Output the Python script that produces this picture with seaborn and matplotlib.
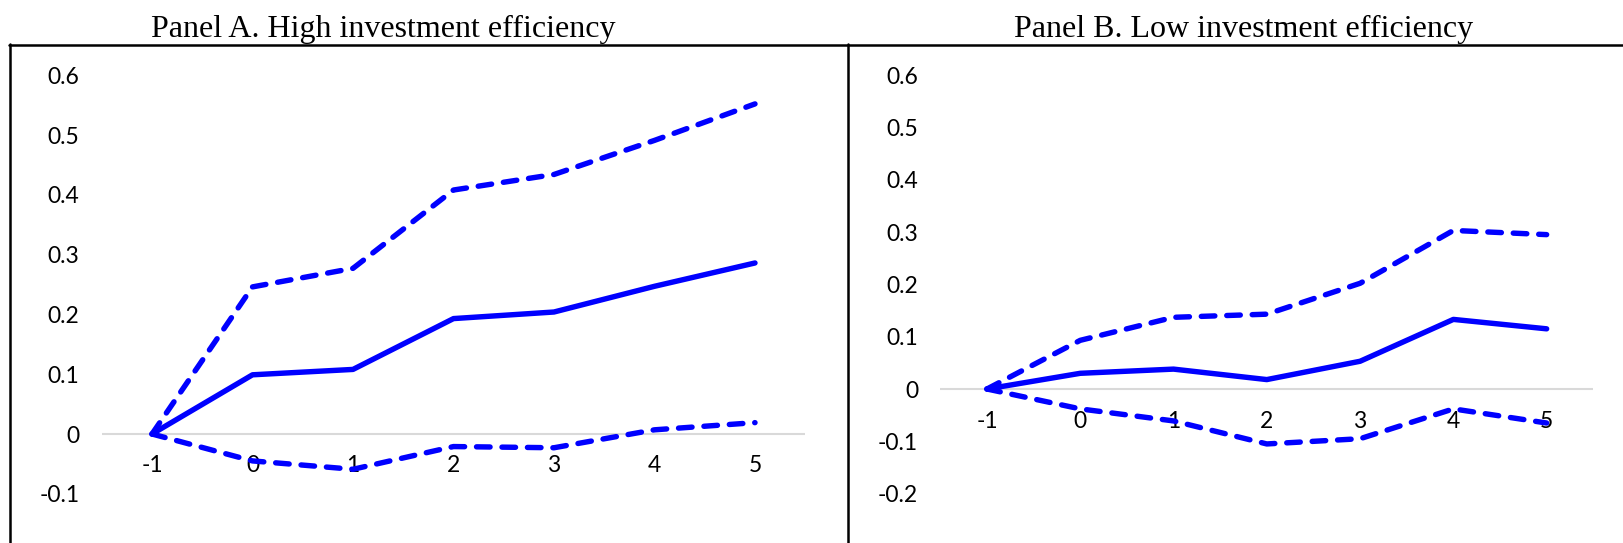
import matplotlib
matplotlib.use("Agg")
import matplotlib.pyplot as plt
from matplotlib.lines import Line2D
import seaborn as sns
import pandas as pd

# ---- data ----
periods = [-1, 0, 1, 2, 3, 4, 5]

a_coef = [0.0, 0.099, 0.108, 0.193, 0.204, 0.247, 0.286]
a_upper = [0.0, 0.246, 0.277, 0.408, 0.434, 0.491, 0.552]
a_lower = [0.0, -0.045, -0.059, -0.021, -0.023, 0.007, 0.019]

b_coef = [0.0, 0.030, 0.038, 0.018, 0.053, 0.133, 0.115]
b_upper = [0.0, 0.093, 0.137, 0.143, 0.202, 0.303, 0.295]
b_lower = [0.0, -0.038, -0.061, -0.105, -0.095, -0.038, -0.065]

a_yticks = [-0.1, 0.0, 0.1, 0.2, 0.3, 0.4, 0.5, 0.6]
a_ylabels = ["-0.1", "0", "0.1", "0.2", "0.3", "0.4", "0.5", "0.6"]
b_yticks = [-0.2, -0.1, 0.0, 0.1, 0.2, 0.3, 0.4, 0.5, 0.6]
b_ylabels = ["-0.2", "-0.1", "0", "0.1", "0.2", "0.3", "0.4", "0.5", "0.6"]
xlabels = ["-1", "0", "1", "2", "3", "4", "5"]

titles = ["Panel A. High investment efficiency", "Panel B. Low investment efficiency"]

# ---- style ----
sns.set_theme(style="white")
plt.rcParams["font.family"] = ["Lato", "DejaVu Sans"]
plt.rcParams["axes.unicode_minus"] = False

W, H = 1624, 543
DPI = 100
fig = plt.figure(figsize=(W / DPI, H / DPI), dpi=DPI)

BLUE = "#0000FF"
LW = 3.9
DASH = (0, (2.5, 2.2))

def px_axes(left, right, top_px, bottom_px):
    return [left / W, 1 - bottom_px / H, (right - left) / W, (bottom_px - top_px) / H]

# panel A: x -1.5..5.5 -> 101.75..805.25 ; y: 0 at 434, 598 px per unit
ya0, yascale = 434.0, 598.0
a_ylim = (-0.15, 0.65)
axA = fig.add_axes(px_axes(101.75, 805.25, ya0 - a_ylim[1] * yascale, ya0 - a_ylim[0] * yascale))
# panel B: x -1.5..5.5 -> 940.3..1593.3 ; y: 0 at 389, 523.3 px per unit
yb0, ybscale = 389.0, 523.3
b_ylim = (-0.25, 0.65)
axB = fig.add_axes(px_axes(940.3, 1593.3, yb0 - b_ylim[1] * ybscale, yb0 - b_ylim[0] * ybscale))

panels = [
    (axA, a_coef, a_upper, a_lower, a_ylim, a_yticks, a_ylabels, 15),
    (axB, b_coef, b_upper, b_lower, b_ylim, b_yticks, b_ylabels, 16),
]

for ax, coef, up, lo, ylim, yt, yl, xpad in panels:
    df = pd.DataFrame({"period": periods, "coef": coef, "upper": up, "lower": lo})
    ax.axhline(0, color="#D9D9D9", lw=1.5, zorder=1)
    sns.lineplot(data=df, x="period", y="upper", ax=ax, color=BLUE, lw=LW,
                 linestyle=DASH, dash_capstyle="round", solid_joinstyle="round", zorder=3)
    sns.lineplot(data=df, x="period", y="lower", ax=ax, color=BLUE, lw=LW,
                 linestyle=DASH, dash_capstyle="round", solid_joinstyle="round", zorder=3)
    sns.lineplot(data=df, x="period", y="coef", ax=ax, color=BLUE, lw=LW,
                 solid_capstyle="round", solid_joinstyle="round", zorder=4)
    ax.set_xlim(-1.5, 5.5)
    ax.set_ylim(*ylim)
    ax.set_yticks(yt)
    ax.set_yticklabels(yl)
    ax.set_xticks(periods)
    ax.set_xticklabels(xlabels)
    ax.set_xlabel("")
    ax.set_ylabel("")
    for s in ["top", "right", "left"]:
        ax.spines[s].set_visible(False)
    ax.spines["bottom"].set_position(("data", 0))
    ax.spines["bottom"].set_visible(False)
    ax.tick_params(axis="y", length=0, pad=16, labelsize=16.5, colors="#000000")
    ax.tick_params(axis="x", length=0, pad=xpad, labelsize=16.5, colors="#000000")
    ax.set_facecolor("none")
    ax.patch.set_alpha(0)

# titles
fig.text(383.5 / W, 1 - 37 / H, titles[0], ha="center", va="baseline",
         family="Liberation Serif", fontsize=23, color="black")
fig.text(1244 / W, 1 - 37 / H, titles[1], ha="center", va="baseline",
         family="Liberation Serif", fontsize=23, color="black")

# outer frame lines
def fline(x0, y0, x1, y1):
    fig.add_artist(Line2D([x0 / W, x1 / W], [1 - y0 / H, 1 - y1 / H],
                          transform=fig.transFigure, color="black", lw=1.8))

fline(9, 45, W, 45)
fline(10, 44, 10, H)
fline(848.5, 44, 848.5, H)

fig.savefig("out.png", dpi=DPI)
